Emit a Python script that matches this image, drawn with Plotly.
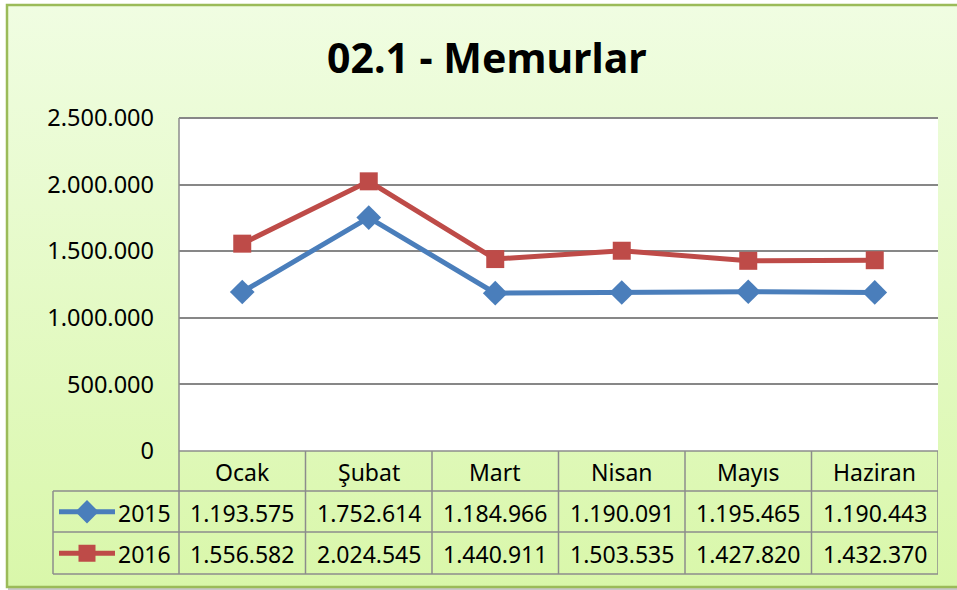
import base64
import plotly.graph_objects as go

# ---------------- data ----------------
months = ["Ocak", "Şubat", "Mart", "Nisan", "Mayıs", "Haziran"]
series_names = ["2015", "2016"]
values_2015 = [1193575, 1752614, 1184966, 1190091, 1195465, 1190443]
values_2016 = [1556582, 2024545, 1440911, 1503535, 1427820, 1432370]
y_ticks = [0, 500000, 1000000, 1500000, 2000000, 2500000]
title_text = "02.1 - Memurlar"

# ---------------- styling / layout ----------------
W, H = 957, 590
FONT = "Noto Sans"
BLUE = "#4a7ebb"
RED = "#be4b48"
GRID = "#878787"
TBL = "#8c8c8c"

def px(x):
    return x / W

def py(y):
    return 1 - y / H

PL, PR, PT, PB = 179, 938, 118, 451  # plot area in pixels
ROW_H = [451, 491, 532, 574]          # table row boundaries
LEG_L = 53


def fmt(v):
    return f"{v:,}".replace(",", ".")


fig = go.Figure()

colors = [BLUE, RED]
symbols = ["diamond", "square"]
msize = [19, 18]
for name, vals, c, s, ms in zip(series_names, [values_2015, values_2016], colors, symbols, msize):
    fig.add_trace(go.Scatter(
        x=months, y=vals, name=name, mode="lines+markers",
        line=dict(color=c, width=5),
        marker=dict(symbol=s, size=ms, color=c),
        xaxis="x", yaxis="y", showlegend=False, hoverinfo="skip",
    ))

# legend samples inside the table's first column (own small axis)
for i, (name, c, s, ms) in enumerate(zip(series_names, colors, symbols, msize)):
    yy = 1.5 - i
    fig.add_trace(go.Scatter(
        x=[6, 34, 62], y=[yy, yy, yy], mode="lines",
        line=dict(color=c, width=5), xaxis="x2", yaxis="y2",
        showlegend=False, hoverinfo="skip",
    ))
    fig.add_trace(go.Scatter(
        x=[34], y=[yy], mode="markers",
        marker=dict(symbol=s, size=ms - 1, color=c), xaxis="x2", yaxis="y2",
        showlegend=False, hoverinfo="skip",
    ))

# gradient background as svg image
svg = f'''<svg xmlns="http://www.w3.org/2000/svg" width="{W}" height="{H}" preserveAspectRatio="none">
<defs><linearGradient id="g" x1="0" y1="0" x2="0" y2="1">
<stop offset="0" stop-color="#f0fde2"/><stop offset="1" stop-color="#d9f7aa"/>
</linearGradient></defs>
<rect x="0" y="0" width="{W}" height="{H}" fill="#ffffff"/>
<rect x="7" y="5" width="{W}" height="582" fill="url(#g)"/>
</svg>'''
src = "data:image/svg+xml;base64," + base64.b64encode(svg.encode()).decode()

shapes = []
# white plot area
shapes.append(dict(type="rect", xref="x domain", yref="y domain", x0=0, x1=1, y0=0, y1=1,
                   line=dict(width=0), fillcolor="#ffffff", layer="below"))
# top border of the plot area (at the top gridline)
shapes.append(dict(type="line", xref="x domain", yref="y domain", x0=0, x1=1, y0=1, y1=1,
                   line=dict(color=GRID, width=2), layer="below"))
# outer frame shadow and border
shapes.append(dict(type="line", xref="paper", yref="paper", x0=px(8), x1=px(W), y0=py(589), y1=py(589),
                   line=dict(color="#c8c8c8", width=2), layer="below"))
shapes.append(dict(type="rect", xref="paper", yref="paper", x0=px(7), x1=px(W + 10), y0=py(587), y1=py(5),
                   line=dict(color="#9bbb59", width=2.5), fillcolor="rgba(0,0,0,0)", layer="above"))

# table grid
for i, yv in enumerate(ROW_H):
    x0 = PL if i == 0 else LEG_L
    shapes.append(dict(type="line", xref="paper", yref="paper", x0=px(x0), x1=px(PR),
                       y0=py(yv), y1=py(yv), line=dict(color=TBL, width=1.5)))
shapes.append(dict(type="line", xref="paper", yref="paper", x0=px(LEG_L), x1=px(LEG_L),
                   y0=py(ROW_H[1]), y1=py(ROW_H[3]), line=dict(color=TBL, width=1.5)))
shapes.append(dict(type="line", xref="paper", yref="paper", x0=px(PL), x1=px(PL),
                   y0=py(PT), y1=py(ROW_H[3]), line=dict(color=TBL, width=1.5)))
for k in range(len(months)):
    shapes.append(dict(type="line", xref="x", yref="paper", x0=k + 0.5, x1=k + 0.5,
                       y0=py(ROW_H[0]), y1=py(ROW_H[3]), line=dict(color=TBL, width=1.5)))

annotations = [dict(text=f"<b>{title_text}</b>", xref="paper", yref="paper", x=px(487), y=py(57),
                    showarrow=False, font=dict(family=FONT, size=41, color="#000000"),
                    xanchor="center", yanchor="middle")]

def cy(r):
    return py((ROW_H[r] + ROW_H[r + 1]) / 2 + 1)

for k, m in enumerate(months):
    annotations.append(dict(text=m, xref="x", yref="paper", x=k, y=cy(0), showarrow=False,
                            font=dict(family=FONT, size=23, color="#000"), xanchor="center", yanchor="middle"))
    annotations.append(dict(text=fmt(values_2015[k]), xref="x", yref="paper", x=k, y=cy(1), showarrow=False,
                            font=dict(family=FONT, size=23, color="#000"), xanchor="center", yanchor="middle"))
    annotations.append(dict(text=fmt(values_2016[k]), xref="x", yref="paper", x=k, y=cy(2), showarrow=False,
                            font=dict(family=FONT, size=23, color="#000"), xanchor="center", yanchor="middle"))
for i, name in enumerate(series_names):
    annotations.append(dict(text=name, xref="paper", yref="paper", x=px(173), y=cy(i + 1), showarrow=False,
                            font=dict(family=FONT, size=23, color="#000"), xanchor="right", yanchor="middle"))

fig.update_layout(
    width=W, height=H,
    autosize=False,
    margin=dict(l=0, r=0, t=0, b=0, pad=0, autoexpand=False),
    paper_bgcolor="#ffffff", plot_bgcolor="#ffffff",
    separators=",.",
    images=[dict(source=src, xref="paper", yref="paper", x=0, y=1, sizex=1, sizey=1,
                 sizing="stretch", layer="below", xanchor="left", yanchor="top")],
    xaxis=dict(domain=[px(PL), px(PR)], type="category", range=[-0.5, 5.5], automargin=False,
               showticklabels=False, showgrid=False, zeroline=False, showline=False, fixedrange=True),
    yaxis=dict(domain=[py(PB), py(PT)], range=[0, 2500000], tickvals=y_ticks, automargin=False,
               ticktext=[fmt(v) for v in y_ticks], showgrid=True, gridcolor=GRID, gridwidth=1.5,
               zeroline=False, showline=False, ticks="", ticklabelstandoff=24,
               tickfont=dict(family=FONT, size=23.5, color="#000")),
    xaxis2=dict(domain=[px(LEG_L), px(PL)], range=[0, PL - LEG_L], visible=False, anchor="y2", automargin=False),
    yaxis2=dict(domain=[py(ROW_H[3]), py(ROW_H[1])], range=[0, 2], visible=False, anchor="x2", automargin=False),
    shapes=shapes,
    annotations=annotations,
    showlegend=False,
)

fig.write_html("out.html", config={"displayModeBar": False},
               post_script="document.body.style.margin='0px';")
